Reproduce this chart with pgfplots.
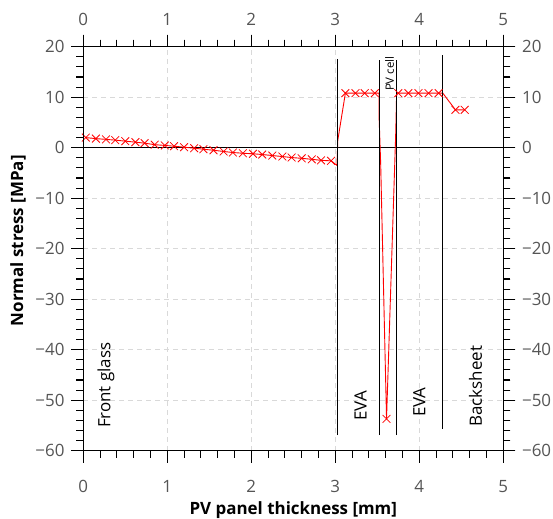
\documentclass[border=0pt]{standalone}
\usepackage{fontspec}
\setmainfont{Open Sans}
\usepackage{pgfplots}
\pgfplotsset{compat=1.18}
\definecolor{tickgray}{HTML}{555555}
\definecolor{gridgray}{HTML}{D9D9D9}

\pgfplotsset{
  stressframe/.style={
    scale only axis, width=420bp, height=404bp,
    xmin=0, xmax=5, ymin=-60, ymax=20,
    xtick={0,1,2,3,4,5}, ytick={-60,-50,-40,-30,-20,-10,0,10,20},
    xticklabels={0,1,2,3,4,5},
    yticklabels={−60,−50,−40,−30,−20,−10,0,10,20},
    minor x tick num=4, minor y tick num=4,
    tick align=outside, major tick length=12bp, minor tick length=7bp,
    tick style={black, line width=1.1bp},
    axis line style={black, line width=1.1bp},
    ticklabel style={font=\fontsize{17}{20}\selectfont, text=tickgray},
  }
}

\begin{document}
\begin{tikzpicture}
\useasboundingbox (-83.3bp,-68.3bp) rectangle (469.7bp,450.7bp);
\begin{axis}[
    stressframe,
    at={(0,0)}, anchor=south west,
    grid=major,
    grid style={gridgray, dash pattern=on 5bp off 4bp, line width=0.9bp},
    xticklabel style={yshift=-14bp},
    yticklabel style={xshift=-3.3bp},
    xlabel={\textbf{PV panel thickness [mm]}},
    ylabel={\textbf{Normal stress [MPa]}},
    every axis x label/.style={at={(axis description cs:0.5,-0.157)}, anchor=base},
    every axis y label/.style={at={(axis description cs:-0.1555,0.52)}, anchor=center, rotate=90},
    label style={font=\fontsize{17}{20}\selectfont},
    clip=false,
]
% zero line
\addplot[black, line width=1.1bp] coordinates {(0,0) (5,0)};

% stress profile (line)
\addplot[red, line width=0.9bp] coordinates {
    (0.03,2.0) (0.15,1.8) (0.27,1.65) (0.38,1.5) (0.50,1.3) (0.62,1.1)
    (0.73,0.9) (0.85,0.6) (0.97,0.45) (1.08,0.3) (1.20,0.1) (1.32,-0.1)
    (1.43,-0.3) (1.55,-0.5) (1.67,-0.75) (1.78,-0.95) (1.90,-1.1) (2.02,-1.2)
    (2.13,-1.35) (2.25,-1.55) (2.37,-1.75) (2.48,-1.95) (2.60,-2.1) (2.72,-2.3)
    (2.83,-2.5) (2.95,-2.6)
    (3.02,-3.5) (3.03,1.5)
    (3.12,10.8) (3.24,10.8) (3.35,10.8) (3.47,10.8) (3.52,10.8) (3.52,6.7)
    (3.54,-3.0) (3.61,-53.7) (3.72,3.2) (3.73,10.8)
    (3.75,10.8) (3.87,10.8) (3.99,10.8) (4.11,10.8) (4.23,10.8) (4.28,10.8)
    (4.43,7.5) (4.54,7.5)
};
% stress profile (marks)
\addplot[red, only marks, mark=x, mark size=5.5bp, mark options={line width=0.8bp}] coordinates {
    (0.03,2.0) (0.15,1.8) (0.27,1.65) (0.38,1.5) (0.50,1.3) (0.62,1.1)
    (0.73,0.9) (0.85,0.6) (0.97,0.45) (1.08,0.3) (1.20,0.1) (1.32,-0.1)
    (1.43,-0.3) (1.55,-0.5) (1.67,-0.75) (1.78,-0.95) (1.90,-1.1) (2.02,-1.2)
    (2.13,-1.35) (2.25,-1.55) (2.37,-1.75) (2.48,-1.95) (2.60,-2.1) (2.72,-2.3)
    (2.83,-2.5) (2.95,-2.6)
    (3.12,10.8) (3.24,10.8) (3.35,10.8) (3.47,10.8)
    (3.61,-53.7)
    (3.75,10.8) (3.87,10.8) (3.99,10.8) (4.11,10.8) (4.23,10.8)
    (4.43,7.5) (4.54,7.5)
};

% layer boundaries
\addplot[black, line width=1bp] coordinates {(3.03,-56.9) (3.03,17.6)};
\addplot[black, line width=1bp] coordinates {(3.53,-56.9) (3.53,17.4)};
\addplot[black, line width=1bp] coordinates {(3.73,-56.9) (3.73,17.4)};
\addplot[black, line width=1bp] coordinates {(4.28,-55.7) (4.28,18.4)};

% layer names
\node[rotate=90, anchor=west, font=\fontsize{17}{20}\selectfont] at (axis cs:0.27,-56.2) {Front glass};
\node[rotate=90, anchor=west, font=\fontsize{17}{20}\selectfont] at (axis cs:3.30,-54.7) {EVA};
\node[rotate=90, anchor=west, font=\fontsize{17}{20}\selectfont] at (axis cs:4.00,-54.0) {EVA};
\node[rotate=90, anchor=west, font=\fontsize{17}{20}\selectfont] at (axis cs:4.67,-55.9) {Backsheet};
\node[rotate=90, anchor=west, font=\fontsize{11.5}{13}\selectfont, inner sep=1pt] at (axis cs:3.645,11.0) {PV cell};
\end{axis}

% second frame for the top and right tick labels
\begin{axis}[
    stressframe,
    at={(0,0)}, anchor=south west,
    xticklabel pos=upper,
    yticklabel pos=right,
    xticklabel style={yshift=6bp},
    yticklabel style={xshift=3.3bp},
]
\end{axis}
\end{tikzpicture}
\end{document}
